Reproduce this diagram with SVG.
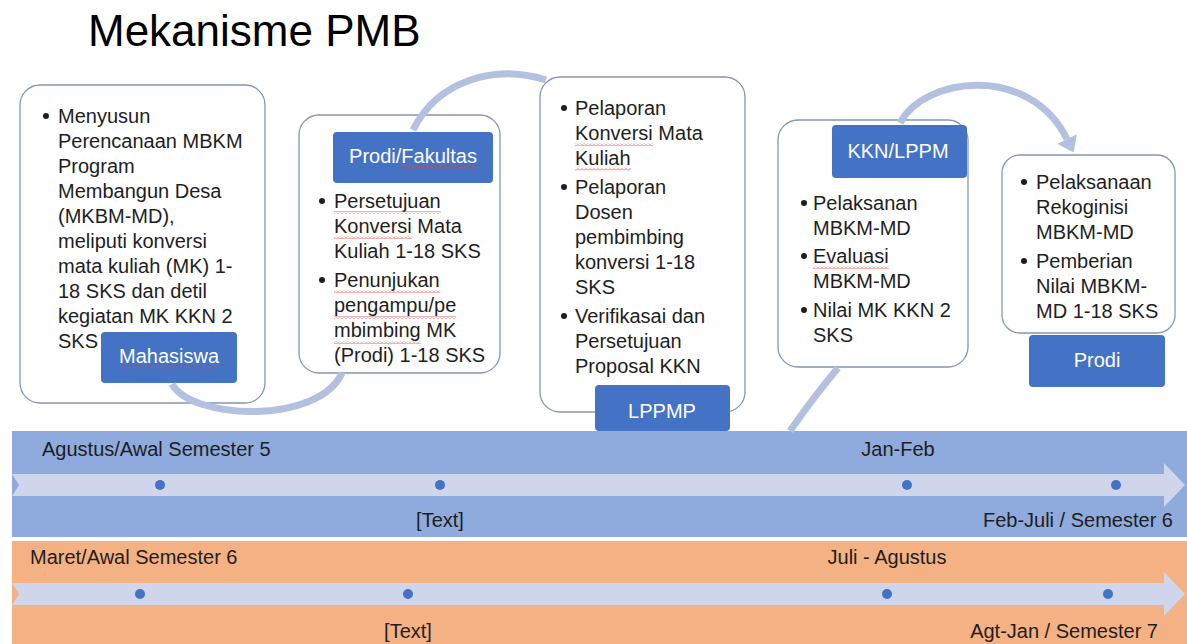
<svg xmlns="http://www.w3.org/2000/svg" width="1187" height="644" viewBox="0 0 1187 644">
<style>
text{font-family:"Liberation Sans",Arial,sans-serif;fill:#1e1e1e}
.t{font-size:20px}
.title{font-size:44px;fill:#000}
.lbl{font-size:20px;fill:#fff;text-anchor:middle}
.box{fill:#fff;stroke:#8497b0;stroke-width:1.3}
.tag{fill:#4472c4}
.bul{fill:#1e1e1e}
.arc{fill:none;stroke:#b3c0e0;stroke-width:7}
.dot{fill:#4472c4}
.strip{fill:#cfd5ea}
.wavy{fill:url(#wavy)}
</style>
<defs>
<pattern id="wavy" width="4" height="3" patternUnits="userSpaceOnUse"><path d="M0,2.5 L2,0.5 L4,2.5" fill="none" stroke="#e0403a" stroke-width="0.8"/></pattern>
<marker id="ah" viewBox="0 0 15 22" refX="0" refY="11" markerWidth="15" markerHeight="22" markerUnits="userSpaceOnUse" orient="auto"><path d="M0,0 L15,11 L0,22 z" fill="#b3c0e0"/></marker>
</defs>
<rect width="1187" height="644" fill="#fff"/>
<text class="title" x="88" y="46">Mekanisme PMB</text>

<g id="timeline1">
<rect x="12" y="431" width="1175" height="106" fill="#8faadc"/>
<polygon class="strip" points="12,474 1164,474 1164,463 1185,485 1164,507 1164,496 12,496 19,485"/>
<circle class="dot" cx="160" cy="485" r="5"/><circle class="dot" cx="440" cy="485" r="5"/><circle class="dot" cx="907" cy="485" r="5"/><circle class="dot" cx="1116" cy="485" r="5"/>
<text class="t" x="42" y="456">Agustus/Awal Semester 5</text>
<text class="t" x="898" y="456" text-anchor="middle">Jan-Feb</text>
<text class="t" x="440" y="527" text-anchor="middle">[Text]</text>
<text class="t" x="1173" y="527" text-anchor="end">Feb-Juli / Semester 6</text>
</g>
<g id="timeline2">
<rect x="12" y="541" width="1175" height="103" fill="#f4b183"/>
<polygon class="strip" points="12,583 1164,583 1164,572 1185,594 1164,616 1164,605 12,605 19,594"/>
<circle class="dot" cx="140" cy="594" r="5"/><circle class="dot" cx="408" cy="594" r="5"/><circle class="dot" cx="887" cy="594" r="5"/><circle class="dot" cx="1108" cy="594" r="5"/>
<text class="t" x="30" y="564">Maret/Awal Semester 6</text>
<text class="t" x="887" y="564" text-anchor="middle">Juli - Agustus</text>
<text class="t" x="408" y="638" text-anchor="middle">[Text]</text>
<text class="t" x="1158" y="638" text-anchor="end">Agt-Jan / Semester 7</text>
</g>

<g id="mahasiswa">
<rect class="box" x="20" y="85" width="245" height="318" rx="20"/>
<circle class="bul" cx="46" cy="116" r="3"/>
<text class="t" x="58" y="123">Menyusun</text>
<text class="t" x="58" y="148">Perencanaan MBKM</text>
<text class="t" x="58" y="173">Program</text>
<text class="t" x="58" y="198">Membangun Desa</text>
<text class="t" x="58" y="223">(MKBM-MD),</text>
<text class="t" x="58" y="248">meliputi konversi</text>
<text class="t" x="58" y="273">mata kuliah (MK) 1-</text>
<text class="t" x="58" y="298">18 SKS dan detil</text>
<text class="t" x="58" y="323">kegiatan MK KKN 2</text>
<text class="t" x="58" y="348">SKS</text>
<rect class="tag" x="101" y="332" width="136" height="51" rx="4"/>
<text class="lbl" x="169" y="363">Mahasiswa</text>
<rect class="wavy" x="119" y="366" width="100" height="3"/>
</g>

<g id="prodi-fakultas">
<rect class="box" x="299" y="115" width="201" height="258" rx="20"/>
<rect class="tag" x="333" y="132" width="160" height="51" rx="4"/>
<text class="lbl" x="413" y="163">Prodi/Fakultas</text>
<rect class="wavy" x="401" y="166" width="76" height="3"/>
<circle class="bul" cx="322" cy="201" r="3"/>
<text class="t" x="334" y="208">Persetujuan</text>
<text class="t" x="334" y="233">Konversi Mata</text>
<text class="t" x="334" y="258">Kuliah 1-18 SKS</text>
<circle class="bul" cx="322" cy="280" r="3"/>
<text class="t" x="334" y="287">Penunjukan</text>
<text class="t" x="334" y="312">pengampu/pe</text>
<text class="t" x="334" y="337">mbimbing MK</text>
<text class="t" x="334" y="362">(Prodi) 1-18 SKS</text>
<rect class="wavy" x="334" y="211" width="107" height="3"/>
<rect class="wavy" x="334" y="236" width="78" height="3"/>
<rect class="wavy" x="334" y="290" width="106" height="3"/>
<rect class="wavy" x="334" y="316" width="122" height="3"/>
<rect class="wavy" x="334" y="341" width="87" height="3"/>
</g>

<g id="lppmp">
<rect class="box" x="540" y="77" width="205" height="335" rx="20"/>
<circle class="bul" cx="564" cy="108" r="3"/>
<text class="t" x="575" y="115">Pelaporan</text>
<text class="t" x="575" y="140">Konversi Mata</text>
<text class="t" x="575" y="165">Kuliah</text>
<circle class="bul" cx="564" cy="187" r="3"/>
<text class="t" x="575" y="194">Pelaporan</text>
<text class="t" x="575" y="219">Dosen</text>
<text class="t" x="575" y="244">pembimbing</text>
<text class="t" x="575" y="269">konversi 1-18</text>
<text class="t" x="575" y="294">SKS</text>
<circle class="bul" cx="564" cy="316" r="3"/>
<text class="t" x="575" y="323">Verifikasai dan</text>
<text class="t" x="575" y="348">Persetujuan</text>
<text class="t" x="575" y="373">Proposal KKN</text>
<rect class="wavy" x="575" y="143" width="78" height="3"/>
<rect class="wavy" x="575" y="168" width="56" height="3"/>
<rect class="tag" x="595" y="385" width="135" height="46" rx="4"/>
<text class="lbl" x="662" y="418">LPPMP</text>
</g>

<g id="kkn-lppm">
<rect class="box" x="778" y="120" width="190" height="247" rx="20"/>
<rect class="tag" x="832" y="125" width="135" height="53" rx="4"/>
<text class="lbl" x="898" y="158">KKN/LPPM</text>
<circle class="bul" cx="804" cy="203" r="3"/>
<text class="t" x="813" y="210">Pelaksanan</text>
<text class="t" x="813" y="235">MBKM-MD</text>
<circle class="bul" cx="804" cy="256" r="3"/>
<text class="t" x="813" y="263">Evaluasi</text>
<text class="t" x="813" y="288">MBKM-MD</text>
<rect class="wavy" x="813" y="266" width="76" height="3"/>
<circle class="bul" cx="804" cy="310" r="3"/>
<text class="t" x="813" y="317">Nilai MK KKN 2</text>
<text class="t" x="813" y="342">SKS</text>
</g>

<g id="prodi">
<rect class="box" x="1002" y="155" width="173" height="178" rx="18"/>
<circle class="bul" cx="1024" cy="182" r="3"/>
<text class="t" x="1036" y="189">Pelaksanaan</text>
<text class="t" x="1036" y="214">Rekoginisi</text>
<text class="t" x="1036" y="239">MBKM-MD</text>
<circle class="bul" cx="1024" cy="261" r="3"/>
<text class="t" x="1036" y="268">Pemberian</text>
<text class="t" x="1036" y="293">Nilai MBKM-</text>
<text class="t" x="1036" y="318">MD 1-18 SKS</text>
<rect class="tag" x="1029" y="335" width="136" height="52" rx="4"/>
<text class="lbl" x="1097" y="367">Prodi</text>
</g>

<g id="connectors">
<path class="arc" d="M172 384 C192 420 318 425 342 373"/>
<path class="arc" d="M413 130 C438 80 495 64 546 80"/>
<path class="arc" d="M790 431 Q815 395 838 368"/>
<path class="arc" d="M900 123 C925 76 1030 64 1067 139" marker-end="url(#ah)"/>
</g>
</svg>
